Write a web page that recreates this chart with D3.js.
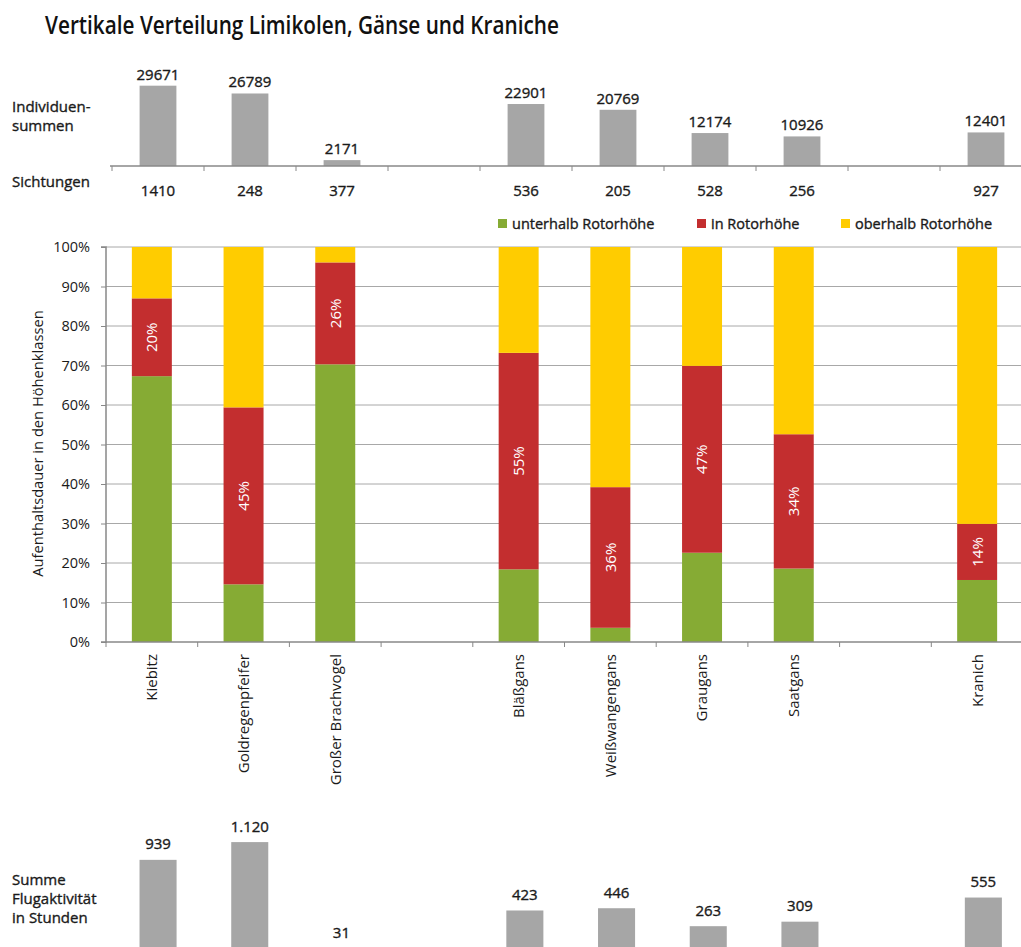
<!DOCTYPE html>
<html>
<head>
<meta charset="utf-8">
<script src="https://cdn.jsdelivr.net/npm/d3@7"></script>
<style>
  html, body { margin: 0; padding: 0; background: #fff; }
  svg { display: block; }
  .medium { stroke: #1a1a1a; stroke-width: 0.35px; paint-order: stroke; }
</style>
</head>
<body>
<svg id="chart" width="1021" height="947"></svg>
<script>
// Species per slot; empty strings are spacer slots between the groups
const categories = ["Kiebitz", "Goldregenpfeifer", "Großer Brachvogel", "", "Bläßgans", "Weißwangengans", "Graugans", "Saatgans", "", "Kranich"];

// Individual totals, number of sightings, total flight hours
const individuen  = [29671, 26789, 2171, null, 22901, 20769, 12174, 10926, null, 12401];
const sichtungen  = [1410, 248, 377, null, 536, 205, 528, 256, null, 927];
const flugstunden = [939, 1120, 31, null, 423, 446, 263, 309, null, 555];

// Share of time spent per height class (%)
const unterhalb = [67.3, 14.6, 70.3, null, 18.4, 3.6, 22.6, 18.6, null, 15.7];
const inRotor   = [19.7, 44.8, 25.8, null, 54.8, 35.6, 47.3, 34.0, null, 14.2];
const oberhalb  = [13.0, 40.6, 3.9, null, 26.8, 60.8, 30.1, 47.4, null, 70.1];

const seriesKeys   = ["unterhalb", "inRotor", "oberhalb"];
const seriesNames  = ["unterhalb Rotorhöhe", "in Rotorhöhe", "oberhalb Rotorhöhe"];
const seriesColors = ["#86ab34", "#c32e2f", "#ffcc00"];
const yTicks = [0, 10, 20, 30, 40, 50, 60, 70, 80, 90, 100];

const W = 1021, H = 947;
const svg = d3.select("#chart");
svg.append("rect").attr("width", W).attr("height", H).attr("fill", "#fff");

const idx = d3.range(categories.length);
const has = arr => idx.filter(i => arr[i] != null);
const labelFont = "'Open Sans', 'Noto Sans', sans-serif";
const plotFont = "'Open Sans', 'Noto Sans', sans-serif";
const textColor = "#1a1a1a";
const barGray = "#a6a6a6";
const axisGray = "#888888";
const gridGray = "#a8a8a8";

const deFormat = d3.formatLocale({ decimal: ",", thousands: ".", grouping: [3], currency: ["", " €"] }).format(",d");

// slot boundaries of a band scale whose outer padding is half the inner padding
const boundaries = x => d3.range(categories.length + 1).map(k => x.range()[0] + k * x.step());

// ---------- Title ----------
svg.append("text")
  .attr("x", 45).attr("y", 34)
  .attr("font-family", labelFont).attr("font-size", 26).attr("font-weight", 600)
  .attr("textLength", 514).attr("lengthAdjust", "spacingAndGlyphs")
  .attr("fill", "#111")
  .text("Vertikale Verteilung Limikolen, Gänse und Kraniche");

// ---------- Top panel: individual totals ----------
const xTop = d3.scaleBand().domain(idx).range([112, 1032]).paddingInner(0.6).paddingOuter(0.3);
const yTop = d3.scaleLinear().domain([0, 30000]).range([166, 84.8]);

const topPanel = svg.append("g");
topPanel.selectAll("rect.bar").data(has(individuen)).join("rect")
  .attr("class", "bar")
  .attr("x", i => xTop(i)).attr("width", xTop.bandwidth())
  .attr("y", i => yTop(individuen[i])).attr("height", i => yTop(0) - yTop(individuen[i]))
  .attr("fill", barGray);

topPanel.selectAll("text.val").data(has(individuen)).join("text")
  .attr("class", "val medium")
  .attr("x", i => xTop(i) + xTop.bandwidth() / 2)
  .attr("y", i => yTop(individuen[i]) - 6)
  .attr("text-anchor", "middle")
  .attr("font-family", labelFont).attr("font-size", 15).attr("fill", textColor)
  .text(i => individuen[i]);

topPanel.append("line")
  .attr("x1", 110).attr("x2", W).attr("y1", yTop(0)).attr("y2", yTop(0))
  .attr("stroke", axisGray).attr("stroke-width", 1.5);
topPanel.selectAll("line.tick").data(boundaries(xTop)).join("line")
  .attr("class", "tick")
  .attr("x1", d => d).attr("x2", d => d)
  .attr("y1", yTop(0)).attr("y2", yTop(0) + 5)
  .attr("stroke", axisGray).attr("stroke-width", 1);

topPanel.selectAll("text.sicht").data(has(sichtungen)).join("text")
  .attr("class", "sicht medium")
  .attr("x", i => xTop(i) + xTop.bandwidth() / 2)
  .attr("y", 196)
  .attr("text-anchor", "middle")
  .attr("font-family", labelFont).attr("font-size", 15).attr("fill", textColor)
  .text(i => sichtungen[i]);

const rowLabel = (lines, x, y0, dy) => {
  lines.forEach((t, k) => {
    svg.append("text").attr("class", "medium").attr("x", x).attr("y", y0 + k * dy)
      .attr("font-family", labelFont).attr("font-size", 15).attr("fill", textColor)
      .text(t);
  });
};
rowLabel(["Individuen-", "summen"], 12, 112, 19);
rowLabel(["Sichtungen"], 12, 187, 0);

// ---------- Legend ----------
const legendX = [498, 697, 841];
const legend = svg.append("g");
seriesNames.forEach((name, k) => {
  legend.append("rect").attr("x", legendX[k]).attr("y", 219).attr("width", 9).attr("height", 9)
    .attr("fill", seriesColors[k]);
  legend.append("text").attr("class", "medium").attr("x", legendX[k] + 14).attr("y", 229)
    .attr("font-family", labelFont).attr("font-size", 14.5).attr("fill", textColor)
    .text(name);
});

// ---------- Main panel: stacked 100% bars ----------
const xMain = d3.scaleBand().domain(idx).range([106, 1023]).paddingInner(0.564).paddingOuter(0.282);
const yMain = d3.scaleLinear().domain([0, 100]).range([642, 247]);

const mainPanel = svg.append("g");
mainPanel.selectAll("line.grid").data(yTicks.slice(1)).join("line")
  .attr("class", "grid")
  .attr("x1", 106).attr("x2", W)
  .attr("y1", d => yMain(d)).attr("y2", d => yMain(d))
  .attr("stroke", gridGray).attr("stroke-width", 1);

const rows = has(unterhalb).map(i => ({ i, unterhalb: unterhalb[i], inRotor: inRotor[i], oberhalb: oberhalb[i] }));
const stacked = d3.stack().keys(seriesKeys)(rows);

mainPanel.selectAll("g.series").data(stacked).join("g")
  .attr("class", "series")
  .attr("fill", (d, k) => seriesColors[k])
  .selectAll("rect").data(d => d).join("rect")
  .attr("x", d => xMain(d.data.i)).attr("width", xMain.bandwidth())
  .attr("y", d => yMain(d[1])).attr("height", d => yMain(d[0]) - yMain(d[1]));

// value labels on the middle (in Rotorhöhe) segment
const midSeries = stacked[1];
mainPanel.selectAll("text.pct").data(midSeries).join("text")
  .attr("class", "pct")
  .attr("transform", d => `translate(${xMain(d.data.i) + xMain.bandwidth() / 2},${yMain((d[0] + d[1]) / 2)}) rotate(-90)`)
  .attr("text-anchor", "middle").attr("dy", "0.36em")
  .attr("font-family", plotFont).attr("font-size", 15).attr("fill", "#fff")
  .text(d => Math.round(d.data.inRotor) + "%");

// y axis
const yAxis = d3.axisLeft(yMain).tickValues(yTicks).tickFormat(d => d + "%").tickSize(5).tickPadding(11);
const yAxisG = mainPanel.append("g").attr("transform", "translate(106,0)").call(yAxis);
yAxisG.select(".domain").attr("stroke", axisGray).attr("stroke-width", 1.5).attr("d", `M-5,${yMain(100)}H0V${yMain(0)}H-5`);
yAxisG.selectAll(".tick line").attr("stroke", axisGray);
yAxisG.selectAll(".tick text").attr("font-family", plotFont).attr("font-size", 14.5).attr("fill", textColor);

// x axis
mainPanel.append("line")
  .attr("x1", 106).attr("x2", W).attr("y1", yMain(0)).attr("y2", yMain(0))
  .attr("stroke", axisGray).attr("stroke-width", 1.5);
mainPanel.selectAll("line.xtick").data(boundaries(xMain)).join("line")
  .attr("class", "xtick")
  .attr("x1", d => d).attr("x2", d => d)
  .attr("y1", yMain(0)).attr("y2", yMain(0) + 5)
  .attr("stroke", axisGray);

mainPanel.selectAll("text.cat").data(idx.filter(i => categories[i])).join("text")
  .attr("class", "cat")
  .attr("transform", i => `translate(${xMain(i) + xMain.bandwidth() / 2},654) rotate(-90)`)
  .attr("text-anchor", "end").attr("dy", "0.36em")
  .attr("font-family", plotFont).attr("font-size", 15).attr("fill", textColor)
  .text(i => categories[i]);

svg.append("text")
  .attr("transform", `translate(38,${(yMain(0) + yMain(100)) / 2 - 1}) rotate(-90)`)
  .attr("text-anchor", "middle").attr("dy", "0.36em")
  .attr("font-family", plotFont).attr("font-size", 14.7).attr("fill", textColor)
  .text("Aufenthaltsdauer in den Höhenklassen");

// ---------- Bottom panel: flight hours ----------
const xBot = d3.scaleBand().domain(idx).range([112.2, 1029.2]).paddingInner(0.596).paddingOuter(0.298);
const yBot = d3.scaleLinear().domain([0, 1120]).range([952, 842.1]);

const botPanel = svg.append("g");
botPanel.selectAll("rect.bar").data(has(flugstunden)).join("rect")
  .attr("class", "bar")
  .attr("x", i => xBot(i)).attr("width", xBot.bandwidth())
  .attr("y", i => yBot(flugstunden[i])).attr("height", i => yBot(0) - yBot(flugstunden[i]))
  .attr("fill", barGray);
botPanel.selectAll("text.val").data(has(flugstunden)).join("text")
  .attr("class", "val medium")
  .attr("x", i => xBot(i) + xBot.bandwidth() / 2)
  .attr("y", i => yBot(flugstunden[i]) - 10.5)
  .attr("text-anchor", "middle")
  .attr("font-family", labelFont).attr("font-size", 15).attr("fill", textColor)
  .text(i => deFormat(flugstunden[i]));

rowLabel(["Summe", "Flugaktivität", "in Stunden"], 12, 885, 19);
</script>
</body>
</html>
